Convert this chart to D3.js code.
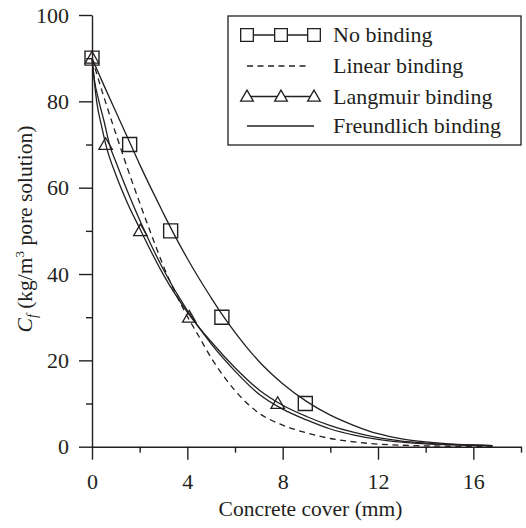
<!DOCTYPE html>
<html><head><meta charset="utf-8">
<script src="https://cdn.jsdelivr.net/npm/d3@7"></script>
</head><body style="margin:0">
<svg id="chart" width="526" height="528" font-family="Liberation Serif"></svg>
<script>
// ---- data ----
const seriesNames = ["No binding", "Linear binding", "Langmuir binding", "Freundlich binding"];

const xNoBinding = [0, 0.5, 1, 1.5, 2, 2.5, 3, 3.5, 4, 4.5, 5, 5.5, 6, 7, 8, 9, 10, 11, 12, 13, 14, 15, 16, 16.8];
const yNoBinding = [90, 83.7, 77.6, 71.5, 65.4, 59.6, 54.0, 48.6, 43.6, 38.9, 34.5, 30.3, 26.5, 19.8, 14.6, 10.5, 7.3, 4.9, 3.0, 1.8, 1.1, 0.65, 0.4, 0.25];

const xLinear = [0, 0.5, 1, 1.5, 2, 2.5, 3, 3.5, 4, 4.5, 5, 5.5, 6, 7, 8, 9, 10, 11, 12, 13, 14, 15, 16, 16.8];
const yLinear = [90, 81.0, 72.5, 64.3, 56.5, 49.0, 41.8, 35.6, 30.2, 25.4, 20.6, 16.5, 13.0, 7.8, 5.0, 3.2, 1.9, 1.1, 0.6, 0.35, 0.2, 0.1, 0.05, 0];

const xLangmuir = [0, 0.1, 0.2, 0.4, 0.6, 1.0, 1.5, 2.0, 2.5, 3.0, 4.0, 5.0, 6.0, 7.0, 8.0, 9.0, 10, 11, 12, 13, 14, 15, 16, 16.8];
const yLangmuir = [90, 84.5, 79.8, 74.3, 69.5, 63, 56.3, 50.6, 45, 39.8, 31.2, 24.3, 18.3, 13.2, 9.6, 7.0, 4.9, 3.3, 2.1, 1.3, 0.85, 0.55, 0.35, 0.25];

const xFreundlich = [0, 0.1, 0.28, 0.5, 0.76, 1.0, 1.5, 2.0, 2.5, 3.0, 4.0, 5.0, 6.0, 7.0, 8.0, 9.0, 10, 11, 12, 13, 14, 15, 16, 16.8];
const yFreundlich = [90, 85, 80.3, 75.5, 69.5, 66, 59, 52.5, 46.5, 41, 31.5, 23.8, 17.5, 12.2, 8.7, 6.2, 4.1, 2.7, 1.7, 1.05, 0.65, 0.45, 0.3, 0.2];

// markers
const xSquares = [0, 1.58, 3.3, 5.45, 8.95];
const ySquares = [90, 70, 50, 30, 10];
const xTriangles = [0, 0.57, 2.03, 4.08, 7.79];
const yTriangles = [90, 70, 50, 30, 10];

// axes
const xMajorTicks = [0, 4, 8, 12, 16];
const xMinorTicks = [2, 6, 10, 14, 18];
const yMajorTicks = [0, 20, 40, 60, 80, 100];
const yMinorTicks = [10, 30, 50, 70, 90];
const xTitle = "Concrete cover (mm)";

// ---- drawing ----
const ink = "#231f20";
const FONT = '"Liberation Serif"';
const svg = d3.select("#chart");
const x = d3.scaleLinear().domain([0, 18]).range([92, 521]);
const y = d3.scaleLinear().domain([0, 100]).range([446.7, 15]);

// X axis
const gx = svg.append("g").attr("transform", `translate(0,${y(0)})`);
gx.call(d3.axisBottom(x).tickValues(xMajorTicks).tickSize(13).tickSizeOuter(0).tickPadding(14).tickFormat(d3.format("d")));
const gxm = svg.append("g").attr("transform", `translate(0,${y(0)})`);
gxm.call(d3.axisBottom(x).tickValues(xMinorTicks).tickSize(6).tickSizeOuter(0).tickFormat(""));
gxm.select(".domain").remove();

// Y axis
const gy = svg.append("g").attr("transform", `translate(${x(0)},0)`);
gy.call(d3.axisLeft(y).tickValues(yMajorTicks).tickSize(13).tickSizeOuter(0).tickPadding(10).tickFormat(d3.format("d")));
const gym = svg.append("g").attr("transform", `translate(${x(0)},0)`);
gym.call(d3.axisLeft(y).tickValues(yMinorTicks).tickSize(6).tickSizeOuter(0).tickFormat(""));
gym.select(".domain").remove();

[gx, gxm, gy, gym].forEach(g => g.attr("font-family", null).attr("font-size", null));
svg.selectAll(".domain, .tick line").attr("stroke", ink).attr("stroke-width", 1.4);
svg.selectAll(".tick text").style("font-family", FONT).attr("font-size", 22).attr("fill", ink);

// axis titles
svg.append("text").attr("x", (x(0) + x(18)) / 2 + 4).attr("y", 516)
  .style("font-family", FONT).attr("font-size", 21.5).attr("fill", ink)
  .attr("text-anchor", "middle").text(xTitle);

const yt = svg.append("text")
  .attr("transform", `translate(32,229) rotate(-90)`)
  .style("font-family", FONT).attr("font-size", 21.5).attr("fill", ink)
  .attr("text-anchor", "middle");
yt.append("tspan").attr("font-style", "italic").text("C");
yt.append("tspan").attr("font-style", "italic").attr("font-size", 14).attr("dy", 5).text("f");
yt.append("tspan").attr("dy", -5).text(" (kg/m");
yt.append("tspan").attr("font-size", 13).attr("dy", -8).text("3");
yt.append("tspan").attr("dy", 8).text(" pore solution)");

// curves
const line = d3.line().x(d => x(d[0])).y(d => y(d[1])).curve(d3.curveMonotoneX);
const zip = (a, b) => a.map((v, i) => [v, b[i]]);
const curves = [
  { xs: xNoBinding, ys: yNoBinding, dash: null },
  { xs: xLinear, ys: yLinear, dash: "6,4.5" },
  { xs: xLangmuir, ys: yLangmuir, dash: null },
  { xs: xFreundlich, ys: yFreundlich, dash: null }
];
svg.append("g").selectAll("path").data(curves).join("path")
  .attr("d", d => line(zip(d.xs, d.ys)))
  .attr("fill", "none").attr("stroke", ink).attr("stroke-width", 1.3)
  .attr("stroke-dasharray", d => d.dash);

// markers
const sq = d3.symbol().type(d3.symbolSquare).size(196);
const tri = d3.symbol().type(d3.symbolTriangle).size(78);
svg.append("g").selectAll("path").data(zip(xSquares, ySquares)).join("path")
  .attr("d", sq).attr("transform", d => `translate(${x(d[0])},${y(d[1])})`)
  .attr("fill", "none").attr("stroke", ink).attr("stroke-width", 1.4);
svg.append("g").selectAll("path").data(zip(xTriangles, yTriangles)).join("path")
  .attr("d", tri).attr("transform", d => `translate(${x(d[0])},${y(d[1]) + 1})`)
  .attr("fill", "none").attr("stroke", ink).attr("stroke-width", 1.3);

// legend
const lg = svg.append("g");
lg.append("rect").attr("x", 228).attr("y", 16).attr("width", 293).attr("height", 129)
  .attr("fill", "#fff").attr("stroke", ink).attr("stroke-width", 1.3);
const rowsY = [35, 66, 96.5, 126];
const x0 = 247, x1 = 314, xm = 281;
seriesNames.forEach((name, i) => {
  const yy = rowsY[i];
  lg.append("line").attr("x1", x0).attr("x2", i === 1 ? 308 : x1).attr("y1", yy).attr("y2", yy)
    .attr("stroke", ink).attr("stroke-width", 1.3)
    .attr("stroke-dasharray", i === 1 ? "6,4.5" : null);
  if (i === 0 || i === 2) {
    const sym = i === 0 ? d3.symbol().type(d3.symbolSquare).size(160) : d3.symbol().type(d3.symbolTriangle).size(70);
    [x0, xm, x1].forEach(px => {
      lg.append("path").attr("d", sym).attr("transform", `translate(${px},${yy + (i === 2 ? 1 : 0)})`)
        .attr("fill", "#fff").attr("stroke", ink).attr("stroke-width", 1.3);
    });
  }
  lg.append("text").attr("x", 333).attr("y", yy + 7)
    .style("font-family", FONT).attr("font-size", 22).attr("fill", ink).text(name);
});
</script>
</body>
</html>
